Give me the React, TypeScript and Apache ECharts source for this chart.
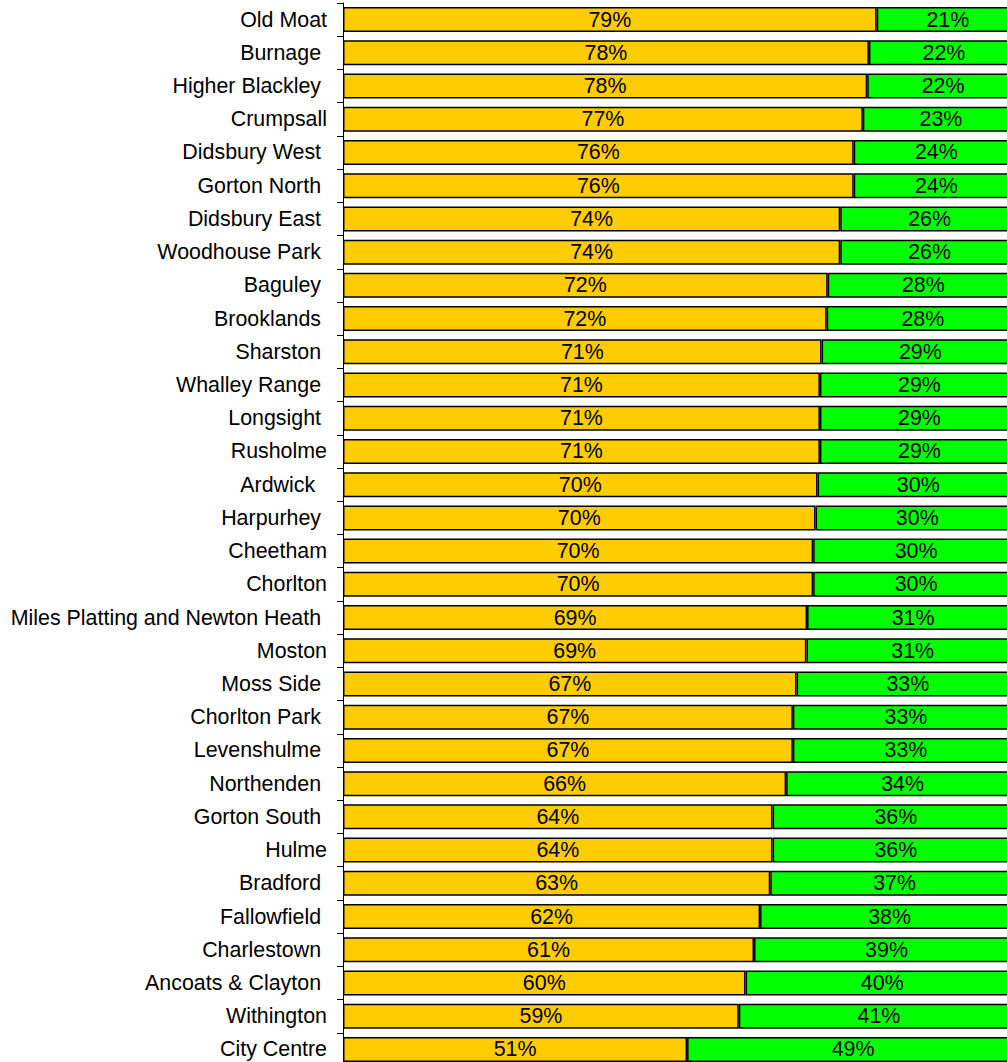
import React, { useEffect, useRef } from "react";
import * as echarts from "echarts";

const categories = [
  "Old Moat",
  "Burnage ",
  "Higher Blackley ",
  "Crumpsall",
  "Didsbury West ",
  "Gorton North ",
  "Didsbury East ",
  "Woodhouse Park ",
  "Baguley ",
  "Brooklands ",
  "Sharston ",
  "Whalley Range ",
  "Longsight ",
  "Rusholme",
  "Ardwick  ",
  "Harpurhey ",
  "Cheetham",
  "Chorlton",
  "Miles Platting and Newton Heath ",
  "Moston",
  "Moss Side ",
  "Chorlton Park ",
  "Levenshulme ",
  "Northenden ",
  "Gorton South ",
  "Hulme",
  "Bradford ",
  "Fallowfield ",
  "Charlestown ",
  "Ancoats & Clayton ",
  "Withington",
  "City Centre",
];

const yellowShare = [
  78.95, 77.8, 77.55, 76.9, 75.55, 75.55, 73.55, 73.55, 71.7, 71.55, 70.8,
  70.55, 70.55, 70.55, 70.2, 69.9, 69.55, 69.55, 68.65, 68.55, 67.1, 66.55,
  66.55, 65.55, 63.55, 63.55, 63.2, 61.7, 60.8, 59.55, 58.55, 50.9,
];

const greenShare = [
  21.05, 22.2, 22.45, 23.1, 24.45, 24.45, 26.45, 26.45, 28.3, 28.45, 29.2,
  29.45, 29.45, 29.45, 29.8, 30.1, 30.45, 30.45, 31.35, 31.45, 32.9, 33.45,
  33.45, 34.45, 36.45, 36.45, 36.8, 38.3, 39.2, 40.45, 41.45, 49.1,
];

const FONT = "'Liberation Sans', Arial, sans-serif";

export default function App() {
  const ref = useRef<HTMLDivElement>(null);

  useEffect(() => {
    if (!ref.current) return;
    const chart = echarts.init(ref.current, null, { renderer: "svg" });
    const labelCfg = {
      show: true,
      position: "inside" as const,
      color: "#000000",
      fontFamily: FONT,
      fontSize: 21.4,
      formatter: (p: any) => Math.round(p.value) + "%",
    };
    chart.setOption({
      animation: false,
      backgroundColor: "#ffffff",
      grid: { left: 343, top: 3, right: 0, bottom: 0, containLabel: false },
      xAxis: {
        type: "value",
        min: 0,
        max: 100,
        show: false,
      },
      yAxis: {
        type: "category",
        data: categories,
        inverse: true,
        axisLine: { show: true, lineStyle: { color: "#000000", width: 1 } },
        axisTick: { show: true, length: 6, lineStyle: { color: "#000000", width: 1 } },
        axisLabel: {
          color: "#000000",
          fontFamily: FONT,
          fontSize: 21.4,
          margin: 16,
        },
        splitLine: { show: false },
      },
      series: [
        {
          name: "Yes",
          type: "bar",
          stack: "total",
          data: yellowShare,
          barWidth: 25,
          itemStyle: { color: "#FFCC00", borderColor: "#000000", borderWidth: 1.5 },
          label: labelCfg,
        },
        {
          name: "No",
          type: "bar",
          stack: "total",
          data: greenShare,
          barWidth: 25,
          itemStyle: { color: "#00FF00", borderColor: "#000000", borderWidth: 1.5 },
          label: labelCfg,
        },
      ],
    });
    return () => chart.dispose();
  }, []);

  return (
    <div
      style={{
        position: "absolute",
        left: 0,
        top: 0,
        width: 1007,
        height: 1062,
        overflow: "hidden",
        background: "#ffffff",
      }}
    >
      <div ref={ref} style={{ width: 1019, height: 1066 }} />
    </div>
  );
}
